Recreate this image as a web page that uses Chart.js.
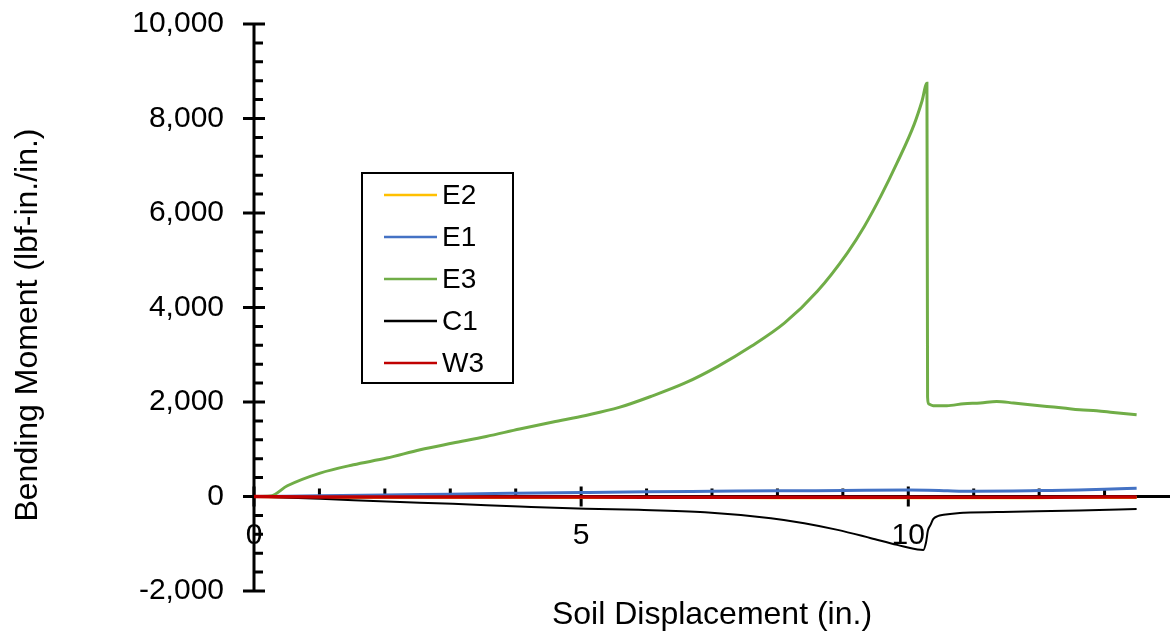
<!DOCTYPE html>
<html>
<head>
<meta charset="utf-8">
<script src="https://cdn.jsdelivr.net/npm/chart.js@4.4.1/dist/chart.umd.min.js"></script>
<style>
  html, body { margin: 0; padding: 0; background: #ffffff; }
  canvas { display: block; }
</style>
</head>
<body>
<canvas id="chart" width="1172" height="632" style="width:1172px;height:632px"></canvas>
<script>
// ---- Series data: soil displacement (in.) vs bending moment (lbf-in./in.) ----
const e2X = [0, 1, 2, 4, 6, 8, 10, 10.3, 11, 12, 13, 13.49];
const e2Y = [0, -12, -15, -20, -22, -24, -25, -27, -25, -24, -22, -22];

const e1X = [0, 1, 2, 3, 4, 5, 6, 7, 8, 9, 10, 10.3, 10.6, 11, 11.6, 12, 12.6, 13, 13.49];
const e1Y = [0, 15, 30, 50, 68, 85, 100, 110, 120, 127, 135, 132, 120, 110, 115, 125, 140, 155, 177];

const e3X = [0, 0.25, 0.51, 1.01, 1.52, 2.03, 2.54, 3.04, 3.55, 4.06, 4.57, 5.07, 5.58, 6.08, 6.59,
             7.09, 7.60, 8.11, 8.61, 9.07, 9.33, 9.58, 9.83, 10.09, 10.21, 10.285, 10.295, 10.31,
             10.38, 10.59, 10.85, 11.10, 11.35, 11.61, 11.86, 12.12, 12.37, 12.62, 12.88, 13.13, 13.49];
const e3Y = [0, 10, 227, 496, 672, 813, 990, 1131, 1271, 1428, 1576, 1716, 1885, 2125, 2403,
             2755, 3179, 3674, 4344, 5158, 5721, 6357, 7065, 7876, 8370, 8745, 2100, 1960,
             1922, 1922, 1964, 1979, 2013, 1979, 1943, 1907, 1873, 1837, 1816, 1780, 1731];

const c1X = [0, 1.01, 2.03, 3.04, 4.06, 5.07, 5.88, 6.89, 7.90, 8.41, 8.92, 9.43, 9.83, 10.19, 10.23,
             10.27, 10.30, 10.34, 10.38, 10.45, 10.54, 10.75, 10.85, 11.61, 12.62, 13.49];
const c1Y = [0, -49, -106, -155, -212, -261, -282, -331, -458, -564, -706, -882, -1024, -1129, -1130,
             -980, -720, -600, -480, -415, -388, -352, -345, -324, -297, -267];

const w3X = [0, 1, 2, 4, 6, 8, 10, 10.3, 11, 12, 13, 13.49];
const w3Y = [0, -8, -10, -12, -14, -15, -15, -18, -15, -14, -13, -13];

const seriesNames  = ['E2', 'E1', 'E3', 'C1', 'W3'];
const seriesColors = ['#FFC000', '#4472C4', '#70AD47', '#000000', '#C00000'];
const seriesWidths = [3, 3, 3, 2, 3.5];

// ---- Axis ticks ----
const xTicks = [0, 5, 10];
const xTickLabels = ['0', '5', '10'];
const xMinorStep = 1;
const yTicks = [-2000, 0, 2000, 4000, 6000, 8000, 10000];
const yTickLabels = ['-2,000', '0', '2,000', '4,000', '6,000', '8,000', '10,000'];
const yMinorStep = 400;

const xTitle = 'Soil Displacement (in.)';
const yTitle = 'Bending Moment (lbf-in./in.)';

const FONT = "'Liberation Sans', Arial, sans-serif";

// Desired plot rectangle on the canvas
const plotBox = { left: 254, top: 24, right: 1170, bottom: 591 };

function toPoints(xs, ys) { return xs.map((v, i) => ({ x: v, y: ys[i] })); }
const seriesData = [toPoints(e2X, e2Y), toPoints(e1X, e1Y), toPoints(e3X, e3Y), toPoints(c1X, c1Y), toPoints(w3X, w3Y)];

const datasets = seriesNames.map((name, i) => ({
  label: name,
  data: seriesData[i],
  borderColor: seriesColors[i],
  backgroundColor: seriesColors[i],
  borderWidth: seriesWidths[i],
  pointRadius: 0,
  cubicInterpolationMode: 'monotone',
  fill: false,
  order: seriesNames.length - i   // later series paint on top
}));

// Axis lines crossing at the origin, with major/minor tick marks
const crossAxes = {
  id: 'crossAxes',
  beforeDatasetsDraw(chart) {
    const { ctx, scales: { x, y } } = chart;
    const y0 = y.getPixelForValue(0);
    const x0 = x.getPixelForValue(0);
    ctx.save();
    ctx.strokeStyle = '#000';
    ctx.lineCap = 'butt';
    ctx.lineWidth = 3;
    ctx.beginPath();
    ctx.moveTo(x0, y.getPixelForValue(y.max));
    ctx.lineTo(x0, y.getPixelForValue(y.min));
    ctx.moveTo(x.getPixelForValue(x.min), y0);
    ctx.lineTo(x.getPixelForValue(x.max), y0);
    ctx.stroke();

    ctx.beginPath();
    for (let v = y.min; v <= y.max + 1e-6; v += yMinorStep) {
      const py = y.getPixelForValue(v);
      if (yTicks.includes(Math.round(v))) {
        ctx.moveTo(x0 - 11, py); ctx.lineTo(x0 + 11, py);
      } else {
        ctx.moveTo(x0, py); ctx.lineTo(x0 + 9, py);
      }
    }
    for (let v = x.min; v < x.max - 1e-6; v += xMinorStep) {
      const px = x.getPixelForValue(v);
      if (xTicks.includes(Math.round(v))) {
        ctx.moveTo(px, y0 - 10); ctx.lineTo(px, y0 + 10);
      } else {
        ctx.moveTo(px, y0); ctx.lineTo(px, y0 - 8);
      }
    }
    ctx.stroke();
    ctx.restore();
  },
  afterDraw(chart) {
    const { ctx, chartArea: a } = chart;
    ctx.save();
    ctx.fillStyle = '#000';
    ctx.font = '32px ' + FONT;
    ctx.textAlign = 'center';
    ctx.textBaseline = 'middle';
    ctx.fillText(xTitle, (a.left + a.right) / 2, 615);
    ctx.translate(28, 325);
    ctx.rotate(-Math.PI / 2);
    ctx.fillText(yTitle, 0, 0);
    ctx.restore();
  }
};

// Boxed legend placed inside the plot
const boxLegend = {
  id: 'boxLegend',
  afterDraw(chart) {
    const { ctx } = chart;
    const box = { x: 362, y: 173, w: 151, h: 210 };
    ctx.save();
    ctx.fillStyle = '#fff';
    ctx.fillRect(box.x, box.y, box.w, box.h);
    ctx.strokeStyle = '#000';
    ctx.lineWidth = 2;
    ctx.strokeRect(box.x, box.y, box.w, box.h);
    ctx.font = '28px ' + FONT;
    ctx.textAlign = 'left';
    ctx.textBaseline = 'middle';
    chart.data.datasets.forEach((ds, i) => {
      const cy = 195 + i * 42;
      ctx.strokeStyle = ds.borderColor;
      ctx.lineWidth = 2.5;
      ctx.beginPath();
      ctx.moveTo(384, cy);
      ctx.lineTo(437, cy);
      ctx.stroke();
      ctx.fillStyle = '#000';
      ctx.fillText(ds.label, 442, cy + 1);
    });
    ctx.restore();
  }
};

const padding = { left: 0, top: 24, right: 2, bottom: 41 };

const chart = new Chart(document.getElementById('chart'), {
  type: 'line',
  data: { datasets },
  options: {
    responsive: false,
    animation: false,
    devicePixelRatio: 1,
    layout: { padding },
    plugins: { legend: { display: false }, tooltip: { enabled: false } },
    scales: {
      x: {
        type: 'linear',
        min: 0,
        max: 14,
        position: { y: 0 },
        grid: { display: false, drawTicks: true, tickLength: 20 },
        border: { display: false },
        afterBuildTicks: s => { s.ticks = xTicks.map(v => ({ value: v })); },
        ticks: {
          autoSkip: false,
          maxRotation: 0,
          padding: 1,
          color: '#000',
          font: { size: 30, family: FONT },
          callback: (v, i) => xTickLabels[i]
        }
      },
      y: {
        type: 'linear',
        min: -2000,
        max: 10000,
        position: 'left',
        grid: { display: false, drawTicks: true, tickLength: 28 },
        border: { display: false },
        afterBuildTicks: s => { s.ticks = yTicks.map(v => ({ value: v })); },
        afterFit: s => { s.width = plotBox.left; },
        ticks: {
          autoSkip: false,
          padding: 2,
          color: '#000',
          font: { size: 30, family: FONT },
          callback: (v, i) => yTickLabels[i]
        }
      }
    }
  },
  plugins: [crossAxes, boxLegend]
});

// Nudge the layout padding until the plot rectangle sits where intended
for (let k = 0; k < 3; k++) {
  const a = chart.chartArea;
  const dTop = plotBox.top - a.top;
  const dBottom = a.bottom - plotBox.bottom;
  const dRight = a.right - plotBox.right;
  if (Math.abs(dTop) < 0.5 && Math.abs(dBottom) < 0.5 && Math.abs(dRight) < 0.5) break;
  padding.top = Math.max(0, padding.top + dTop);
  padding.bottom = Math.max(0, padding.bottom + dBottom);
  padding.right = Math.max(0, padding.right + dRight);
  chart.options.layout.padding = { ...padding };
  chart.update('none');
}
</script>
</body>
</html>
